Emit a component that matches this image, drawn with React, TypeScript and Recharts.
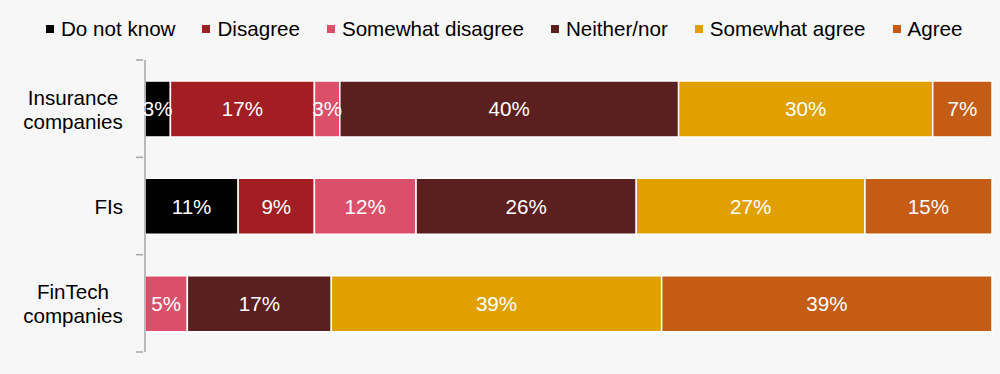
import { BarChart, Bar, XAxis, YAxis, LabelList } from 'recharts';

const CATEGORIES = ['Insurance companies', 'FIs', 'FinTech companies'];

const SERIES = [
  { key: 'dnk', name: 'Do not know', color: '#000000' },
  { key: 'dis', name: 'Disagree', color: '#a31e22' },
  { key: 'sdis', name: 'Somewhat disagree', color: '#dc4f6b' },
  { key: 'nei', name: 'Neither/nor', color: '#5c1f1f' },
  { key: 'sag', name: 'Somewhat agree', color: '#e0a000' },
  { key: 'agr', name: 'Agree', color: '#c45c15' },
];

const DO_NOT_KNOW = [3, 11, 0];
const DISAGREE = [17, 9, 0];
const SOMEWHAT_DISAGREE = [3, 12, 5];
const NEITHER_NOR = [40, 26, 17];
const SOMEWHAT_AGREE = [30, 27, 39];
const AGREE = [7, 15, 39];

const VALUES = [DO_NOT_KNOW, DISAGREE, SOMEWHAT_DISAGREE, NEITHER_NOR, SOMEWHAT_AGREE, AGREE];

const data = CATEGORIES.map((name, i) => {
  const row: Record<string, string | number> = { name };
  SERIES.forEach((s, j) => {
    row[s.key] = VALUES[j][i];
  });
  return row;
});

const FONT = '"Liberation Sans", Arial, sans-serif';
const FONT_SIZE = 20.6;
const WIDTH = 1000;
const HEIGHT = 374;
const MARGIN = { top: 60, right: 8, bottom: 22, left: 0 };
const BAND = (HEIGHT - MARGIN.top - MARGIN.bottom) / CATEGORIES.length;

function CategoryTick(props: any) {
  const { x, y, payload, index } = props;
  const words = String(payload.value).split(' ');
  const axisX = x + 6;
  const lineH = 24;
  const startY = y - ((words.length - 1) * lineH) / 2;
  const multi = words.length > 1;
  // multi-line labels: lines centred in a block that is right-aligned
  const textX = multi ? axisX - 20 - 50 : axisX - 20;
  return (
    <g>
      <line x1={axisX - 7} x2={axisX} y1={y - BAND / 2} y2={y - BAND / 2} stroke="#a6a6a6" strokeWidth={1.5} />
      {index === CATEGORIES.length - 1 && (
        <line x1={axisX - 7} x2={axisX} y1={y + BAND / 2} y2={y + BAND / 2} stroke="#a6a6a6" strokeWidth={1.5} />
      )}
      <text
        x={textX}
        y={startY}
        textAnchor={multi ? 'middle' : 'end'}
        dominantBaseline="central"
        fontSize={FONT_SIZE}
        fill="#000"
        fontFamily={FONT}
      >
        {words.map((w, i) => (
          <tspan key={i} x={textX} dy={i === 0 ? 0 : lineH}>
            {w}
          </tspan>
        ))}
      </text>
    </g>
  );
}

export default function App() {
  return (
    <div
      style={{
        position: 'fixed',
        left: 0,
        top: 0,
        width: WIDTH,
        height: HEIGHT,
        background: '#f7f7f7',
        fontFamily: FONT,
      }}
    >
      <div
        style={{
          position: 'absolute',
          top: 16,
          left: 46,
          display: 'flex',
          alignItems: 'center',
          gap: 27,
          fontSize: FONT_SIZE,
          color: '#000',
          lineHeight: '26px',
        }}
      >
        {SERIES.map((s) => (
          <div key={s.key} style={{ display: 'flex', alignItems: 'center', gap: 7 }}>
            <span style={{ width: 8, height: 8, background: s.color, display: 'inline-block' }} />
            <span>{s.name}</span>
          </div>
        ))}
      </div>
      <BarChart
        width={WIDTH}
        height={HEIGHT}
        data={data}
        layout="vertical"
        margin={MARGIN}
        barSize={56}
      >
        <XAxis type="number" domain={[0, 100]} hide />
        <YAxis
          type="category"
          dataKey="name"
          width={145}
          axisLine={{ stroke: '#a6a6a6', strokeWidth: 1.5 }}
          tickLine={false}
          tick={<CategoryTick />}
          interval={0}
        />
        {SERIES.map((s) => (
          <Bar
            key={s.key}
            dataKey={s.key}
            name={s.name}
            stackId="a"
            fill={s.color}
            stroke="#ffffff"
            strokeWidth={1.5}
            isAnimationActive={false}
          >
            <LabelList
              dataKey={s.key}
              position="center"
              fill="#ffffff"
              fontSize={FONT_SIZE}
              fontFamily={FONT}
              formatter={(v: any) => (v ? `${v}%` : '')}
            />
          </Bar>
        ))}
      </BarChart>
    </div>
  );
}
